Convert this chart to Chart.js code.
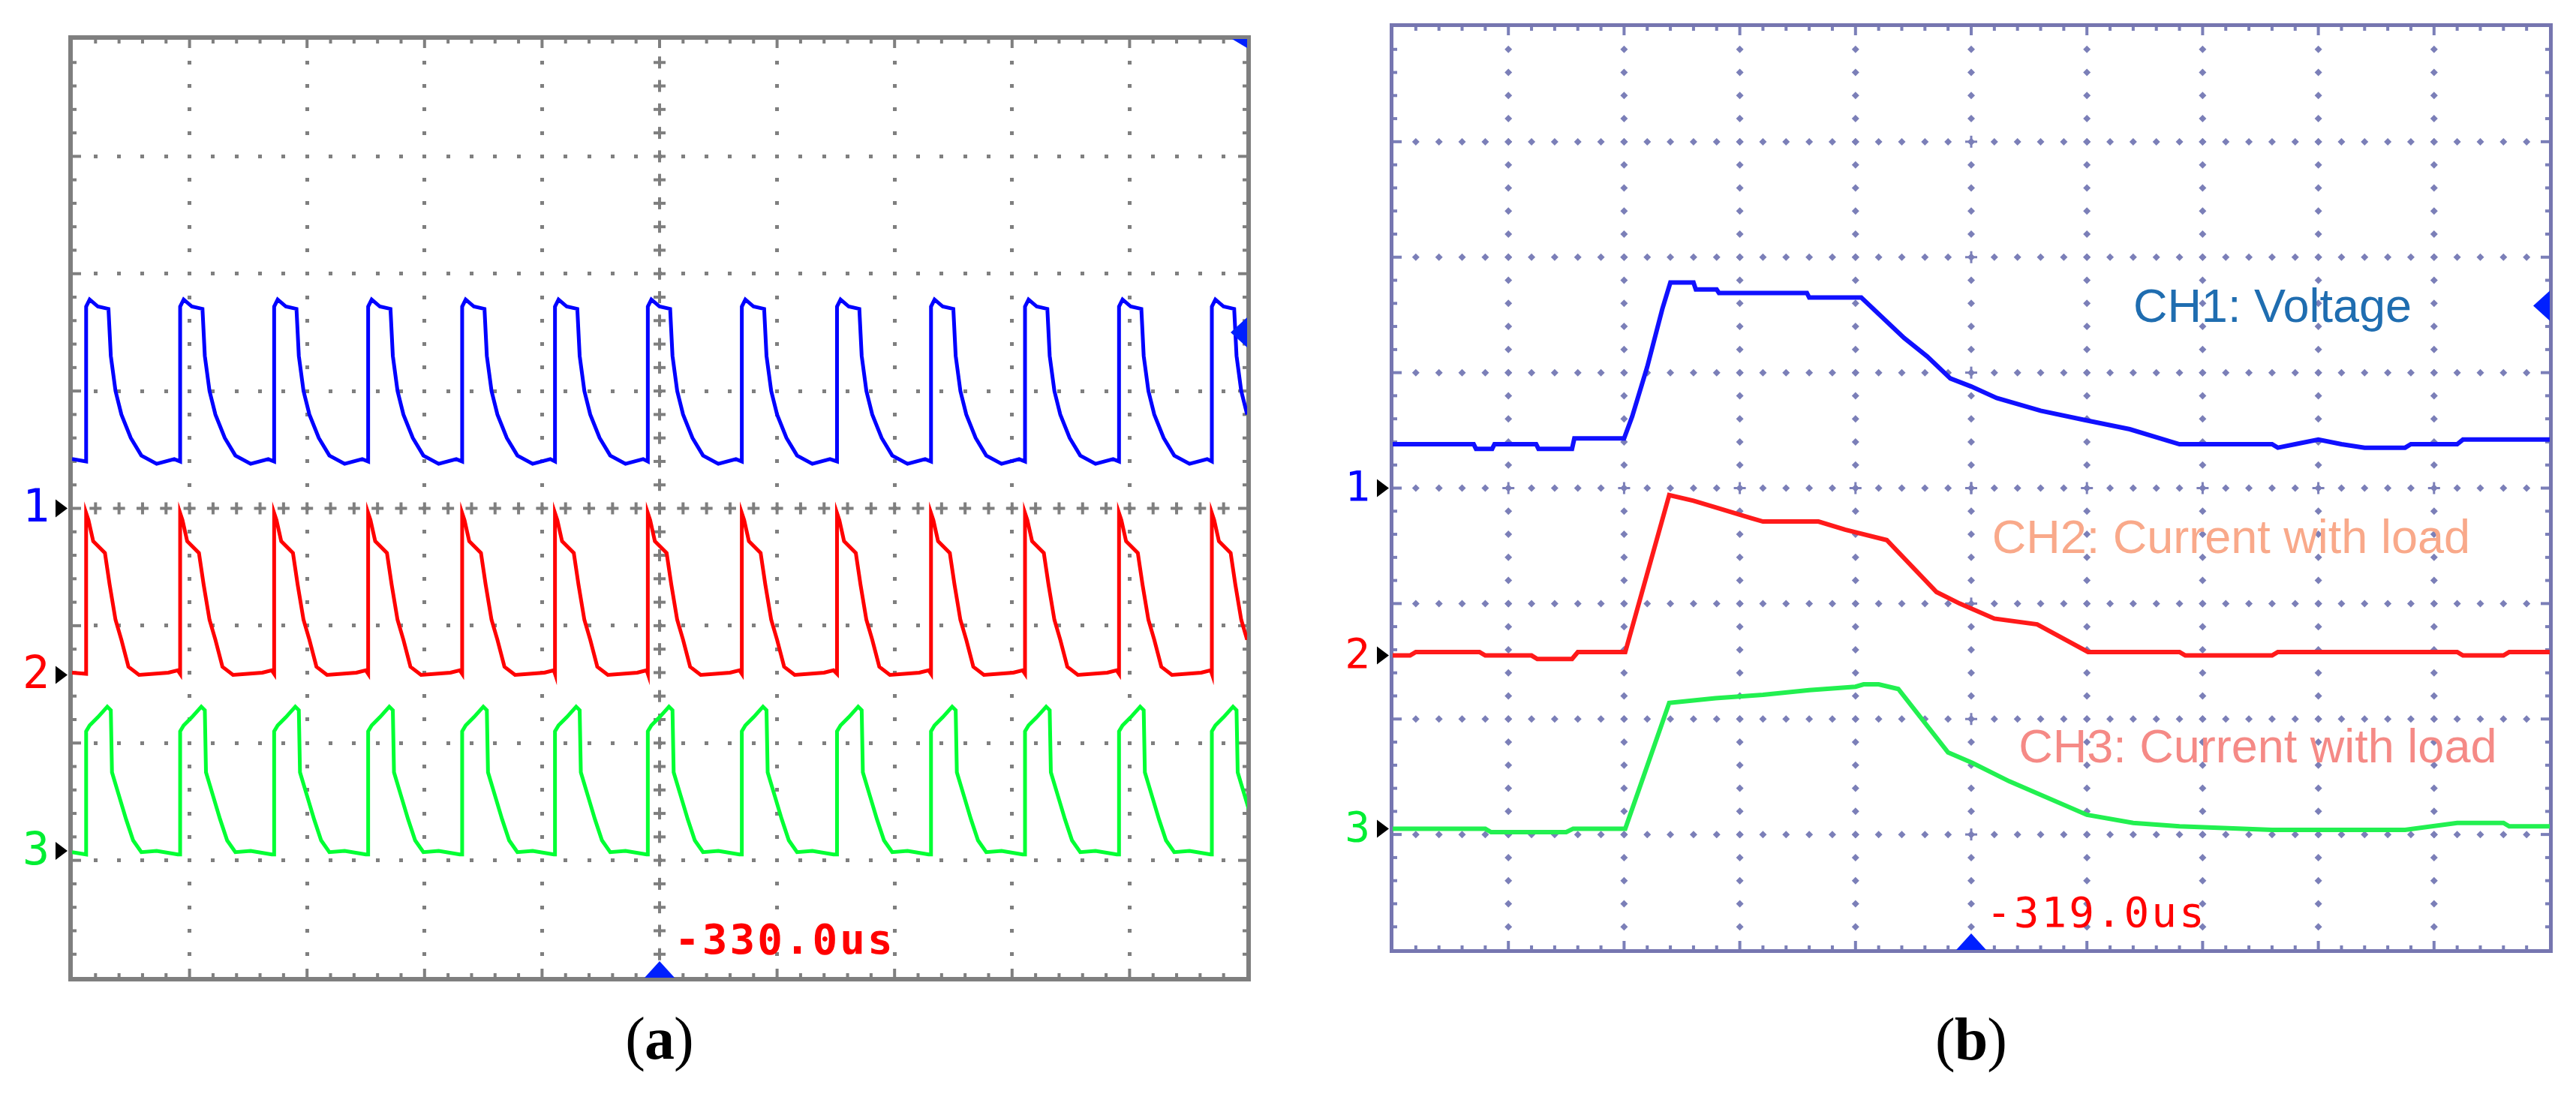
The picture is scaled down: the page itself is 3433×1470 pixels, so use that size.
<!DOCTYPE html>
<html><head><meta charset="utf-8">
<script src="https://cdn.jsdelivr.net/npm/chart.js@4/dist/chart.umd.min.js"></script>
<style>
html,body{margin:0;padding:0;background:#fff;width:3433px;height:1470px;overflow:hidden}
canvas{position:absolute;top:0}
#ca{left:0}#cb{left:1716px}
</style></head><body>
<canvas id="ca" width="1716" height="1470"></canvas>
<canvas id="cb" width="1717" height="1470"></canvas>
<script>
// ---------- Panel (a): repeated pulses (x in divisions 0-10, y in divisions 0-8) ----------
const aRiseTimes = [0.12,0.92,1.72,2.52,3.32,4.11,4.90,5.70,6.51,7.31,8.11,8.91,9.70];
const aCh1Dx = [0,0,0.03,0.1,0.19,0.21,0.25,0.3,0.38,0.47,0.6,0.75];
const aCh1Y  = [4.40,5.72,5.78,5.72,5.70,5.30,5.00,4.80,4.60,4.45,4.38,4.42];
const aCh2Dx = [0,0,0.02,0.06,0.16,0.2,0.25,0.3,0.36,0.45,0.7,0.78];
const aCh2Y  = [2.59,3.96,3.90,3.72,3.62,3.35,3.05,2.88,2.65,2.58,2.60,2.62];
const aCh3Dx = [0,0,0.03,0.1,0.18,0.21,0.22,0.28,0.34,0.4,0.47,0.6,0.78];
const aCh3Y  = [1.05,2.10,2.15,2.22,2.31,2.28,1.75,1.55,1.35,1.17,1.07,1.08,1.05];
const aStartY = [4.42,2.60,1.07];

// ---------- Panel (b) ----------
const bCh1X = [0,0.7,0.72,0.86,0.88,1.24,1.26,1.55,1.57,2.0,2.07,2.2,2.33,2.4,2.6,2.62,2.8,2.82,3.58,3.6,4.05,4.42,4.62,4.82,5.0,5.22,5.6,5.98,6.37,6.8,7.6,7.65,7.8,8.0,8.2,8.4,8.75,8.8,9.2,9.25,10];
const bCh1Y = [4.38,4.38,4.34,4.34,4.38,4.38,4.34,4.34,4.43,4.43,4.62,5.05,5.55,5.78,5.78,5.72,5.72,5.69,5.69,5.65,5.65,5.3,5.14,4.95,4.88,4.78,4.67,4.59,4.51,4.38,4.38,4.35,4.38,4.42,4.38,4.35,4.35,4.38,4.38,4.42,4.42];
const bCh2X = [0,0.15,0.2,0.75,0.8,1.2,1.25,1.55,1.6,2.01,2.39,2.6,2.8,3.1,3.2,3.68,3.91,4.27,4.7,4.9,5.2,5.57,6.01,6.8,6.85,7.6,7.65,9.2,9.25,9.6,9.65,10];
const bCh2Y = [2.55,2.55,2.58,2.58,2.55,2.55,2.52,2.52,2.58,2.58,3.94,3.89,3.83,3.74,3.71,3.71,3.64,3.55,3.1,3.0,2.87,2.82,2.58,2.58,2.55,2.55,2.58,2.58,2.55,2.55,2.58,2.58];
const bCh3X = [0,0.8,0.85,1.5,1.56,2.01,2.39,2.79,3.2,3.6,4.0,4.07,4.2,4.37,4.8,5.01,5.33,6.0,6.4,6.8,7.6,8.75,9.2,9.6,9.65,10];
const bCh3Y = [1.05,1.05,1.02,1.02,1.05,1.05,2.14,2.18,2.21,2.25,2.28,2.3,2.3,2.26,1.71,1.62,1.46,1.17,1.1,1.07,1.04,1.04,1.1,1.1,1.07,1.07];

const bLabels = ["CH1: Voltage","CH2: Current with load","CH3: Current with load"];
const aTime = "-330.0us", bTime = "-319.0us";
const captions = ["(a)","(b)"];

function pulses(startY, dx, ys){
  const pts=[{x:0,y:startY}];
  aRiseTimes.forEach(t=>dx.forEach((d,i)=>pts.push({x:t+d,y:ys[i]})));
  return pts;
}
function zip(xs,ys){return xs.map((x,i)=>({x,y:ys[i]}));}

function gridPlugin(st){
  return {id:'grid'+st.name,
  beforeDatasetsDraw(chart){
    const c=chart.ctx,X=chart.scales.x,Y=chart.scales.y;
    const L=X.getPixelForValue(0),R=X.getPixelForValue(10),T=Y.getPixelForValue(8),B=Y.getPixelForValue(0);
    c.save();c.fillStyle=st.color;c.strokeStyle=st.color;
    const dot=(x,y)=>{const s=st.dot;
      if(st.diamond){c.beginPath();c.moveTo(x,y-s);c.lineTo(x+s,y);c.lineTo(x,y+s);c.lineTo(x-s,y);c.closePath();c.fill();}
      else c.fillRect(Math.round(x-s/2),Math.round(y-s/2),s,s);};
    const cross=(x,y)=>{const a=st.cross,w=st.cw;c.fillRect(x-a,y-w/2,2*a,w);c.fillRect(x-w/2,y-a,w,2*a);};
    for(let i=1;i<10;i++){const x=X.getPixelForValue(i);
      for(let k=1;k<40;k++){const y=Y.getPixelForValue(k*0.2); if(i===5) (st.diamond?dot(x,y):cross(x,y)); else dot(x,y);} }
    for(let j=1;j<8;j++){const y=Y.getPixelForValue(j);
      for(let k=1;k<50;k++){const x=X.getPixelForValue(k*0.2); if(j===4) (st.diamond?dot(x,y):cross(x,y)); else dot(x,y);} }
    if(st.diamond){
      const x5=X.getPixelForValue(5);for(let k=5;k<40;k+=5){cross(x5,Y.getPixelForValue(k*0.2));}
      const y4=Y.getPixelForValue(4);for(let k=5;k<50;k+=5){cross(X.getPixelForValue(k*0.2),y4);} }
    for(let k=1;k<50;k++){const x=X.getPixelForValue(k*0.2),len=(k%5===0)?st.tick*2:st.tick;
      c.fillRect(x-st.tw/2,T,st.tw,len);c.fillRect(x-st.tw/2,B-len,st.tw,len);}
    for(let k=1;k<40;k++){const y=Y.getPixelForValue(k*0.2),len=(k%5===0)?st.tick*2:st.tick;
      c.fillRect(L,y-st.tw/2,len,st.tw);c.fillRect(R-len,y-st.tw/2,len,st.tw);}
    c.lineWidth=st.bw;c.strokeStyle=st.border;c.strokeRect(L-st.bw/2+1,T-st.bw/2+1,R-L+st.bw-2,B-T+st.bw-2);
    c.restore();
  },
  afterDatasetsDraw(chart){
    const c=chart.ctx,X=chart.scales.x,Y=chart.scales.y;
    const L=X.getPixelForValue(0),R=X.getPixelForValue(10),T=Y.getPixelForValue(8),B=Y.getPixelForValue(0),C=X.getPixelForValue(5);
    c.save();
    const cols=['#0000ff','#ff0000','#00ee33'];
    st.grounds.forEach((g,i)=>{const y=Y.getPixelForValue(g);
      c.fillStyle='#000';c.beginPath();c.moveTo(L-st.bw-16,y-12);c.lineTo(L-st.bw,y);c.lineTo(L-st.bw-16,y+12);c.closePath();c.fill();
      c.fillStyle=cols[i];c.font=st.numFont;c.textAlign='center';c.textBaseline='middle';c.fillText(String(i+1),L-st.bw-42,y+2);});
    c.fillStyle='#0020ff';
    c.beginPath();c.moveTo(C-20,B);c.lineTo(C,B-22);c.lineTo(C+20,B);c.closePath();c.fill();
    const ty=Y.getPixelForValue(st.trigY);
    c.beginPath();c.moveTo(R,ty-20);c.lineTo(R-22,ty);c.lineTo(R,ty+20);c.closePath();c.fill();
    if(st.topMark){c.beginPath();c.moveTo(R-20,T);c.lineTo(R,T);c.lineTo(R,T+12);c.closePath();c.fill();}
    c.fillStyle='#ff0000';c.font=st.timeFont;c.textAlign='left';c.textBaseline='middle';
    c.letterSpacing=st.ls;c.fillText(st.time,C+20,B-st.timeDy);c.letterSpacing='0px';
    (st.labels||[]).forEach(l=>{c.fillStyle=l.color;c.font='63px "Liberation Sans", Arial';c.textAlign='left';c.textBaseline='middle';c.fillText(l.text,X.getPixelForValue(l.x),Y.getPixelForValue(l.y));});
    c.fillStyle='#000';c.textBaseline='middle';c.textAlign='center';
    c.font='80px "Liberation Serif", serif';
    const cy=B+st.capDy;const w=c.measureText(st.cap).width;
    c.fillText('(',C-w/2+12,cy);c.fillText(')',C+w/2-12,cy);
    c.font='bold 80px "Liberation Serif", serif';c.fillText(st.cap.slice(1,-1),C,cy);
    c.restore();
  }};
}

function mk(id,datasets,pad,lw,st){
  return new Chart(document.getElementById(id),{type:'line',
    data:{datasets:datasets.map(d=>({data:d.data,borderColor:d.color,borderWidth:lw,pointRadius:0,tension:0,fill:false}))},
    options:{responsive:false,animation:false,devicePixelRatio:1,layout:{padding:pad},
      plugins:{legend:{display:false},tooltip:{enabled:false}},
      scales:{x:{type:'linear',min:0,max:10,display:false},y:{type:'linear',min:0,max:8,display:false}}},
    plugins:[gridPlugin(st)]});
}

mk('ca',[
  {data:pulses(aStartY[0],aCh1Dx,aCh1Y),color:'#0000ff'},
  {data:pulses(aStartY[1],aCh2Dx,aCh2Y),color:'#ff0000'},
  {data:pulses(aStartY[2],aCh3Dx,aCh3Y),color:'#00ff33'}],
  {left:96,top:52,right:54,bottom:167},5,
  {name:'a',color:'#7f7f7f',border:'#7f7f7f',dot:5,diamond:false,cross:8,cw:4,tick:6,tw:4,bw:6,
   grounds:[4,2.58,1.08],trigY:5.5,topMark:true,time:aTime,timeFont:'bold 56px "DejaVu Sans Mono", monospace',ls:'3px',timeDy:47,
   numFont:'60px "DejaVu Sans Mono", monospace',cap:captions[0],capDy:87});

mk('cb',[
  {data:zip(bCh1X,bCh1Y),color:'#1010ff'},
  {data:zip(bCh2X,bCh2Y),color:'#ff1a1a'},
  {data:zip(bCh3X,bCh3Y),color:'#22f050'}],
  {left:140,top:35,right:35,bottom:204},6,
  {name:'b',color:'#7b7fb8',border:'#7676b0',dot:5,diamond:true,cross:8,cw:3,tick:6,tw:4,bw:5,
   grounds:[4,2.55,1.05],trigY:5.58,topMark:false,time:bTime,timeFont:'56px "DejaVu Sans Mono", monospace',ls:'3px',timeDy:46,
   numFont:'56px "DejaVu Sans Mono", monospace',cap:captions[1],capDy:125,
   labels:[{text:bLabels[0],color:'#1f6db0',x:6.4,y:5.55},{text:bLabels[1],color:'#f9a98a',x:5.18,y:3.55},{text:bLabels[2],color:'#f58a86',x:5.41,y:1.74}]});
</script>
</body></html>
